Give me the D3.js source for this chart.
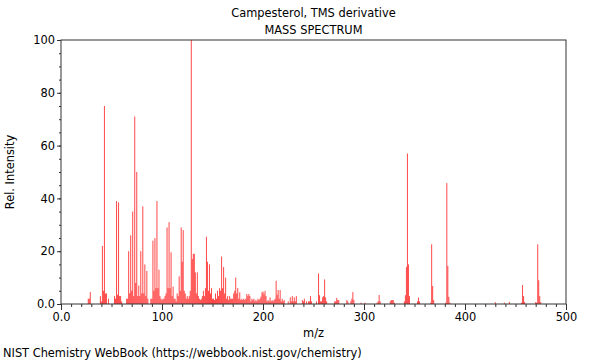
<!DOCTYPE html>
<html><head><meta charset="utf-8">
<script src="https://cdn.jsdelivr.net/npm/d3@7"></script>
<style>body{margin:0;background:#fff}svg{display:block}text{font-family:"DejaVu Sans",sans-serif;fill:#000}</style>
</head><body><svg id="c" width="600" height="360"></svg>
<script>
const title = "Campesterol, TMS derivative";
const subtitle = "MASS SPECTRUM";
const xTicks = [0, 100, 200, 300, 400, 500];
const xTickLabels = ["0.0", "100", "200", "300", "400", "500"];
const yTicks = [0, 20, 40, 60, 80, 100];
const yTickLabels = ["0.0", "20", "40", "60", "80", "100"];
const mz = [27,28,29,39,40,41,42,43,44,45,47,53,54,55,56,57,58,59,60,65,66,67,68,69,70,71,72,73,74,75,76,77,78,79,80,81,82,83,84,85,86,89,90,91,92,93,94,95,96,97,98,99,100,101,102,103,104,105,106,107,108,109,110,111,112,113,114,115,116,117,118,119,120,121,122,123,124,125,126,127,128,129,130,131,132,133,134,135,136,137,138,139,140,141,142,143,144,145,146,147,148,149,150,151,152,153,154,155,156,157,158,159,160,161,162,163,164,165,166,167,168,169,170,171,172,173,174,175,176,177,178,179,180,181,182,183,184,185,186,187,188,189,190,191,192,193,194,195,196,197,198,199,200,201,202,203,204,205,206,207,208,209,210,211,212,213,214,215,216,217,218,219,220,221,225,227,228,229,230,231,232,233,239,240,241,243,245,246,247,248,253,255,256,257,258,259,260,261,262,263,271,272,273,274,275,283,284,287,288,289,290,297,301,313,314,315,316,326,327,328,329,330,340,341,342,343,344,345,353,354,355,366,367,368,369,381,382,383,384,385,430,439,444,456,457,458,459,470,471,472,473,474,475];
const intensity = [2,2,4.5,3,1,22,5,75,4,4,2,3,2,39,3.5,38.5,3,3,1,2,2,20,4,26,5,35,3,71,8,50,3,7,3,20,4,37,4,15,3,12.5,2,2,2,24,5,25,6,39,6,13,3,2,1.5,2,2,3,4,29,6,31,6,19.6,3,6.6,2,2,1,4,3,10.5,5,29,16,28,5,4,2,3,2,3,5,100,17,19,19,12,4,12,3,2,1.5,2,3,5,3,6,25.5,16,5,15,4,6,2,2,1.5,4,2,5,3,6,5,18,6,14,4,10,2,3,1.5,3,2,2,2,4,5,10,4,6,2,4.4,1.5,2,1.5,2,1.5,2,3.8,3,3.8,3,1,2,1.5,2,1,1.5,1,2,1.5,2,2.8,4.4,4.7,3.7,5,3,1,1.5,1,2.5,1,1.5,1,1.5,2,8.8,3.5,5.3,2,5.3,1,2,1,1.5,1,2.5,1,3,1,2.5,1,3,1.5,1,2,1,1,1,3,1,1,11.6,3.3,1,1,2.5,3,9.3,2.5,1,1,1,2.3,1.5,1.5,1.5,1,1,2,4.5,1.5,0.5,0.5,0.5,1,3.4,1,1,1.5,1.5,1.5,0.5,1,3.3,14,57,15,3,1,2.4,1,0.5,22.6,6.8,1.5,0.5,45.8,14.4,2.7,0.5,0.7,0.5,0.8,0.5,7.2,3,0.8,0.7,0.5,22.6,9,3,0.7];

const svg = d3.select("#c");
const fs = 11.4;
const m = {l: 61, r: 566, t: 40, b: 304};
const x = d3.scaleLinear().domain([0, 500]).range([m.l, m.r]);
const y = d3.scaleLinear().domain([0, 100]).range([m.b, m.t]);

// peaks
svg.append("g").selectAll("line").data(mz.map((d, i) => ({m: d, v: intensity[i]})))
  .join("line")
  .attr("x1", d => x(d.m)).attr("x2", d => x(d.m))
  .attr("y1", y(0)).attr("y2", d => y(d.v))
  .attr("stroke", "#ff0000").attr("stroke-opacity", 0.72).attr("stroke-width", 1);

// frame
svg.append("rect").attr("x", m.l).attr("y", m.t).attr("width", m.r - m.l).attr("height", m.b - m.t)
  .attr("fill", "none").attr("stroke", "#333").attr("stroke-width", 1);

// x axis
const xMinor = d3.range(0, 501, 10);
const gx = svg.append("g").attr("transform", `translate(0,${m.b})`);
gx.call(d3.axisBottom(x).tickValues(xMinor).tickSize(3).tickFormat(""))
  .call(g => g.select(".domain").remove())
  .call(g => g.selectAll("line").attr("stroke", "#333"));
const gx2 = svg.append("g").attr("transform", `translate(0,${m.b})`);
gx2.call(d3.axisBottom(x).tickValues(xTicks).tickSize(6).tickPadding(3)
    .tickFormat((d, i) => xTickLabels[i]))
  .call(g => g.select(".domain").remove())
  .call(g => g.selectAll("line").attr("stroke", "#333"))
  .call(g => g.selectAll("text").attr("font-size", fs).attr("font-family", "DejaVu Sans").attr("fill", "#000"));

// y axis
const yMinor = d3.range(0, 101, 5);
const gy = svg.append("g").attr("transform", `translate(${m.l},0)`);
gy.call(d3.axisLeft(y).tickValues(yMinor).tickSize(2).tickFormat(""))
  .call(g => g.select(".domain").remove())
  .call(g => g.selectAll("line").attr("stroke", "#333"));
const gy2 = svg.append("g").attr("transform", `translate(${m.l},0)`);
gy2.call(d3.axisLeft(y).tickValues(yTicks).tickSize(4).tickPadding(2)
    .tickFormat((d, i) => yTickLabels[i]))
  .call(g => g.select(".domain").remove())
  .call(g => g.selectAll("line").attr("stroke", "#333"))
  .call(g => g.selectAll("text").attr("font-size", fs).attr("font-family", "DejaVu Sans").attr("fill", "#000"));

// titles
const cx = (m.l + m.r) / 2;
svg.append("text").attr("x", cx).attr("y", 17).attr("text-anchor", "middle").attr("font-size", fs).text(title);
svg.append("text").attr("x", cx).attr("y", 34).attr("text-anchor", "middle").attr("font-size", fs).text(subtitle);
svg.append("text").attr("x", cx).attr("y", 337).attr("text-anchor", "middle").attr("font-size", fs).text("m/z");
svg.append("text").attr("transform", `translate(14,${(m.t + m.b) / 2}) rotate(-90)`)
  .attr("text-anchor", "middle").attr("font-size", fs).text("Rel. Intensity");
svg.append("text").attr("x", 3).attr("y", 357).attr("font-size", fs)
  .text("NIST Chemistry WebBook (https://webbook.nist.gov/chemistry)");
</script></body></html>
